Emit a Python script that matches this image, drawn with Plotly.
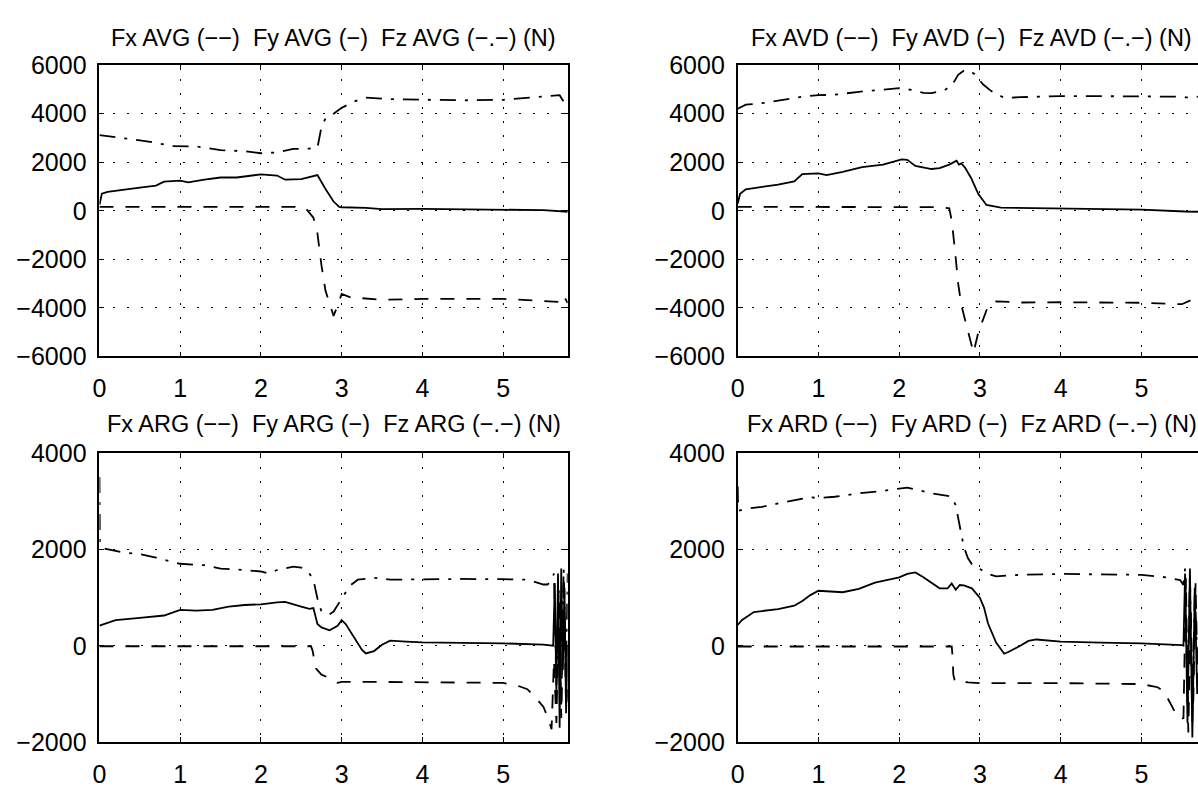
import plotly.graph_objects as go

# ---------------- data (time in s, force in N) ----------------
# AVG (top-left)
avg_fy_t = [0, 0.03, 0.1, 0.3, 0.5, 0.7, 0.8, 1.0, 1.1, 1.3, 1.5, 1.7, 1.9, 2.0, 2.2, 2.3, 2.5, 2.6, 2.7, 2.8, 2.9, 2.97, 3.0, 3.3, 3.5, 4.0, 5.0, 5.5, 5.8]
avg_fy = [250, 700, 780, 850, 950, 1040, 1200, 1240, 1170, 1280, 1370, 1370, 1470, 1500, 1450, 1280, 1300, 1400, 1470, 900, 380, 160, 145, 120, 65, 80, 50, 25, -40]
avg_fx_t = [0, 2.5, 2.55, 2.65, 2.7, 2.75, 2.8, 2.85, 2.9, 2.95, 3.0, 3.1, 3.5, 4.0, 5.0, 5.4, 5.7, 5.75, 5.8]
avg_fx = [160, 160, 120, -280, -930, -2250, -3300, -3830, -4330, -3900, -3430, -3560, -3670, -3630, -3630, -3700, -3760, -3500, -3800]
avg_fz_t = [0, 0.3, 0.5, 0.7, 0.9, 1.2, 1.5, 1.8, 2.0, 2.2, 2.4, 2.6, 2.7, 2.75, 2.8, 2.9, 3.0, 3.15, 3.3, 3.6, 4.0, 4.5, 5.0, 5.5, 5.7, 5.75, 5.8]
avg_fz = [3120, 3000, 2900, 2800, 2660, 2650, 2500, 2450, 2370, 2400, 2550, 2560, 2600, 3450, 3800, 4000, 4240, 4500, 4660, 4600, 4570, 4550, 4570, 4700, 4760, 4500, 4750]

# AVD (top-right)
avd_fy_t = [0, 0.03, 0.1, 0.3, 0.5, 0.7, 0.8, 1.0, 1.1, 1.3, 1.54, 1.8, 2.03, 2.1, 2.2, 2.4, 2.5, 2.62, 2.71, 2.74, 2.77, 2.82, 2.89, 2.98, 3.08, 3.26, 4.0, 5.0, 5.54, 5.7]
avd_fy = [300, 700, 880, 970, 1080, 1210, 1510, 1540, 1470, 1600, 1800, 1900, 2120, 2100, 1850, 1720, 1760, 1900, 2060, 1900, 1950, 1750, 1350, 690, 240, 130, 100, 50, -30, -40]
avd_fx_t = [0, 2.5, 2.62, 2.65, 2.69, 2.73, 2.77, 2.86, 2.92, 2.98, 3.04, 3.1, 3.2, 3.5, 4.0, 5.0, 5.5, 5.6, 5.7]
avd_fx = [160, 150, 100, -400, -1600, -3000, -3900, -5000, -5850, -5000, -4490, -3930, -3730, -3780, -3770, -3790, -3850, -3700, -3650]
avd_fz_t = [0, 0.1, 0.3, 0.5, 0.8, 1.0, 1.2, 1.5, 1.8, 2.0, 2.15, 2.3, 2.4, 2.55, 2.65, 2.73, 2.81, 2.87, 2.93, 3.04, 3.14, 3.3, 3.5, 4.0, 4.5, 5.0, 5.5, 5.6, 5.7]
avd_fz = [4200, 4370, 4430, 4530, 4700, 4760, 4780, 4900, 5000, 5050, 4980, 4860, 4850, 4950, 5150, 5600, 5800, 5760, 5640, 5200, 4930, 4650, 4680, 4720, 4720, 4720, 4700, 4650, 4700]

# ARG (bottom-left)
arg_fy_t = [0, 0.2, 0.5, 0.8, 1.0, 1.2, 1.4, 1.6, 1.8, 2.0, 2.2, 2.3, 2.5, 2.6, 2.65, 2.7, 2.75, 2.85, 2.95, 3.0, 3.05, 3.15, 3.25, 3.3, 3.4, 3.5, 3.6, 3.8, 4.0, 5.0, 5.5, 5.62, 5.64, 5.66, 5.68, 5.70, 5.72, 5.74, 5.76, 5.78, 5.8]
arg_fy = [416, 530, 580, 627, 745, 730, 745, 810, 845, 860, 900, 910, 810, 765, 780, 450, 380, 320, 416, 530, 450, 185, -80, -160, -110, 20, 105, 85, 70, 50, 25, 0, 1300, -1000, 1500, -1700, 1600, -500, 1200, -1400, 0]
arg_fx_t = [0, 2.62, 2.64, 2.68, 2.75, 2.85, 2.95, 3.0, 3.5, 4.0, 5.0, 5.2, 5.3, 5.4, 5.5, 5.55, 5.6, 5.63, 5.66, 5.69, 5.72, 5.75, 5.78, 5.8]
arg_fx = [-10, -10, -100, -470, -600, -670, -770, -750, -750, -760, -770, -840, -900, -1070, -1270, -1470, -1730, -300, -1600, 900, -1500, 1400, -1300, -900]
arg_fz_t = [0, 0.005, 0.05, 0.3, 0.5, 0.7, 0.9, 1.0, 1.3, 1.5, 1.8, 2.0, 2.1, 2.2, 2.4, 2.5, 2.6, 2.65, 2.7, 2.75, 2.8, 2.85, 2.9, 2.95, 3.0, 3.1, 3.2, 3.4, 3.6, 4.0, 4.5, 5.0, 5.3, 5.5, 5.55, 5.6, 5.63, 5.66, 5.69, 5.72, 5.75, 5.78, 5.8]
arg_fz = [3500, 2100, 2020, 1930, 1900, 1830, 1740, 1700, 1670, 1600, 1570, 1540, 1500, 1570, 1640, 1620, 1500, 1370, 980, 710, 680, 650, 710, 845, 980, 1240, 1370, 1410, 1370, 1380, 1385, 1380, 1370, 1270, 1270, 1350, 1500, -900, 1200, -1300, 1600, -600, 1500]

# ARD (bottom-right)
ard_fy_t = [0, 0.05, 0.2, 0.5, 0.7, 0.8, 0.9, 1.0, 1.1, 1.3, 1.5, 1.7, 1.9, 2.0, 2.1, 2.2, 2.3, 2.4, 2.5, 2.6, 2.65, 2.7, 2.75, 2.8, 2.9, 3.0, 3.05, 3.1, 3.2, 3.3, 3.35, 3.5, 3.6, 3.7, 4.0, 4.5, 5.0, 5.5, 5.52, 5.54, 5.57, 5.6, 5.63, 5.66, 5.69]
ard_fy = [430, 530, 700, 760, 830, 930, 1050, 1140, 1130, 1110, 1180, 1310, 1380, 1420, 1490, 1520, 1420, 1310, 1190, 1190, 1290, 1160, 1260, 1250, 1190, 990, 790, 460, 65, -165, -130, 0, 100, 130, 85, 65, 50, 15, 0, 1500, -1600, 1600, -1900, 1200, -1000]
ard_fx_t = [0, 2.65, 2.66, 2.67, 2.69, 2.75, 2.85, 3.0, 3.5, 4.0, 5.0, 5.2, 5.28, 5.38, 5.43, 5.48, 5.52, 5.55, 5.58, 5.61, 5.64, 5.67, 5.7]
ard_fx = [-15, -15, -200, -600, -740, -730, -760, -775, -775, -775, -795, -860, -950, -1260, -1420, -1520, -1500, 1400, -1800, 700, -1300, 1300, -1100]
ard_fz_t = [0, 0.005, 0.15, 0.3, 0.5, 0.7, 0.9, 1.0, 1.2, 1.5, 1.8, 2.0, 2.1, 2.2, 2.4, 2.6, 2.65, 2.7, 2.75, 2.8, 2.85, 2.9, 3.0, 3.1, 3.2, 3.5, 4.0, 4.5, 5.0, 5.3, 5.48, 5.52, 5.54, 5.57, 5.6, 5.63, 5.66, 5.7]
ard_fz = [3300, 2800, 2850, 2880, 2950, 3010, 3080, 3060, 3090, 3160, 3210, 3260, 3280, 3240, 3160, 3110, 3090, 2910, 2450, 2050, 1820, 1690, 1590, 1490, 1440, 1470, 1490, 1480, 1470, 1420, 1360, 1260, 1600, -1200, 1500, -1600, 1100, -600]

titles = [
    "Fx AVG (−−)\u00a0 Fy AVG (−)\u00a0 Fz AVG (−.−) (N)",
    "Fx AVD (−−)\u00a0 Fy AVD (−)\u00a0 Fz AVD (−.−) (N)",
    "Fx ARG (−−)\u00a0 Fy ARG (−)\u00a0 Fz ARG (−.−) (N)",
    "Fx ARD (−−)\u00a0 Fy ARD (−)\u00a0 Fz ARD (−.−) (N)",
]
x_ticks = [0, 1, 2, 3, 4, 5]
y_ticks_top = [-6000, -4000, -2000, 0, 2000, 4000, 6000]
y_ticks_bottom = [-2000, 0, 2000, 4000]

# ---------------- layout geometry ----------------
W, H = 1198, 789
def px_x(p): return p / W
def px_y(p): return 1 - p / H

col_dom = [[px_x(93), px_x(564)], [px_x(735), 1.0]]
row_dom = [[px_y(355), px_y(53)], [px_y(755), px_y(455)]]
x_ranges = [[0, 5.8], [0, 5.70]]
y_ranges = [[-6000, 6000], [-2000, 4000]]

FONT = "Liberation Sans, Arial, Helvetica, sans-serif"
DASH_X = "14px,12px"
DASH_Z = "16px,9px,3px,9px"
LW = 1.8

panels = [
    (avg_fx_t, avg_fx, avg_fy_t, avg_fy, avg_fz_t, avg_fz),
    (avd_fx_t, avd_fx, avd_fy_t, avd_fy, avd_fz_t, avd_fz),
    (arg_fx_t, arg_fx, arg_fy_t, arg_fy, arg_fz_t, arg_fz),
    (ard_fx_t, ard_fx, ard_fy_t, ard_fy, ard_fz_t, ard_fz),
]

fig = go.Figure()
layout = dict(
    width=W, height=H,
    margin=dict(l=0, r=0, t=0, b=0),
    paper_bgcolor="white", plot_bgcolor="white",
    showlegend=False,
    font=dict(family=FONT, color="black"),
    annotations=[],
)

for i, (fxt, fx, fyt, fy, fzt, fz) in enumerate(panels):
    r, c = divmod(i, 2)
    n = "" if i == 0 else str(i + 1)
    xa, ya = "x" + n, "y" + n
    fig.add_trace(go.Scatter(x=fxt, y=fx, mode="lines", xaxis=xa, yaxis=ya,
                             line=dict(color="black", width=LW, dash=DASH_X)))
    fig.add_trace(go.Scatter(x=fyt, y=fy, mode="lines", xaxis=xa, yaxis=ya,
                             line=dict(color="black", width=LW)))
    fig.add_trace(go.Scatter(x=fzt, y=fz, mode="lines", xaxis=xa, yaxis=ya,
                             line=dict(color="black", width=LW, dash=DASH_Z)))
    grid = dict(showgrid=True, gridcolor="black", gridwidth=1.4, griddash="2px,12px")
    layout["xaxis" + n] = dict(
        domain=col_dom[c], range=x_ranges[c], anchor=ya,
        tickvals=x_ticks, ticktext=[str(v) for v in x_ticks],
        ticks="inside", ticklen=5, tickwidth=1.3, tickcolor="black",
        showline=True, linecolor="black", linewidth=1.8, mirror="allticks",
        zeroline=False, tickfont=dict(size=25, family=FONT, color="black"),
        ticklabelstandoff=9, fixedrange=True, **grid)
    yt = y_ticks_top if r == 0 else y_ticks_bottom
    layout["yaxis" + n] = dict(
        domain=row_dom[r], range=y_ranges[r], anchor=xa,
        tickvals=yt, ticktext=[("−" + str(-v)) if v < 0 else str(v) for v in yt],
        ticks="inside", ticklen=5, tickwidth=1.3, tickcolor="black",
        showline=True, linecolor="black", linewidth=1.8,
        mirror=("allticks" if c == 0 else False),
        zeroline=False, tickfont=dict(size=25, family=FONT, color="black"),
        ticklabelstandoff=6, fixedrange=True, **grid)
    cx = (col_dom[c][0] + (px_x(1206) if c == 1 else col_dom[c][1])) / 2
    ty = px_y(25) if r == 0 else px_y(425)
    layout["annotations"].append(dict(
        text=titles[i], x=cx, y=ty, xref="paper", yref="paper",
        xanchor="center", yanchor="middle", showarrow=False,
        font=dict(size=23.5, family=FONT, color="black")))

fig.update_layout(**layout)
fig.write_html("out.html", config={"displayModeBar": False},
               post_script="document.body.style.margin='0';document.body.style.overflow='hidden';")
